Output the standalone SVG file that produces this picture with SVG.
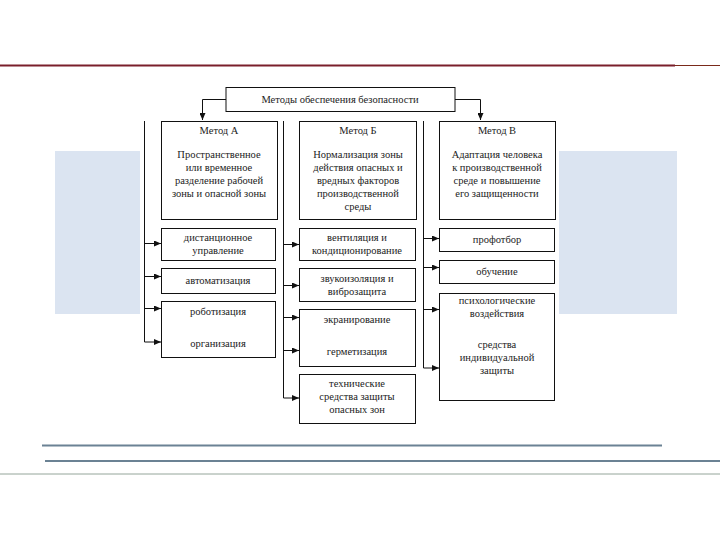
<svg xmlns="http://www.w3.org/2000/svg" width="720" height="540" viewBox="0 0 720 540">
<defs>
<marker id="ah" markerWidth="8" markerHeight="6" refX="7" refY="3" orient="auto" markerUnits="userSpaceOnUse"><path d="M0,0 L7,3 L0,6 Z" fill="#111"/></marker>
<style>
.b{fill:#fff;stroke:#111;stroke-width:1}
.t{font-family:"Liberation Serif","Times New Roman",serif;font-size:10.5px;fill:#222;text-anchor:middle}
.c{fill:none;stroke:#111;stroke-width:1}
.a{fill:none;stroke:#111;stroke-width:1;marker-end:url(#ah)}
</style>
</defs>
<rect width="720" height="540" fill="#fff"/>
<g id="decor">
<line x1="0" y1="65.5" x2="675" y2="65.5" stroke="#7a1f2b" stroke-width="2"/>
<line x1="675" y1="65.5" x2="720" y2="65.5" stroke="#7a2a1a" stroke-width="1"/>
<rect x="55" y="151" width="622" height="163" fill="#dbe4f1"/>
<rect x="140" y="84" width="419" height="344" fill="#fff"/>
<line x1="42" y1="445.5" x2="662" y2="445.5" stroke="#6b8294" stroke-width="2"/>
<line x1="45" y1="461" x2="720" y2="461" stroke="#6b8294" stroke-width="2"/>
<line x1="0" y1="474" x2="720" y2="474" stroke="#94a59a" stroke-width="1"/>
</g>
<g id="connectors">
<polyline class="a" points="226,99.5 202.5,99.5 202.5,120"/>
<polyline class="a" points="455,99.5 480.5,99.5 480.5,120"/>
<line class="c" x1="144.5" y1="121" x2="144.5" y2="342"/>
<line class="a" x1="144.5" y1="243.5" x2="161" y2="243.5"/>
<line class="a" x1="144.5" y1="276.5" x2="161" y2="276.5"/>
<line class="a" x1="144.5" y1="308.5" x2="161" y2="308.5"/>
<line class="a" x1="144.5" y1="342" x2="161" y2="342"/>
<line class="c" x1="283.5" y1="121" x2="283.5" y2="398"/>
<line class="a" x1="283.5" y1="244.5" x2="299" y2="244.5"/>
<line class="a" x1="283.5" y1="285.5" x2="299" y2="285.5"/>
<line class="a" x1="283.5" y1="317.5" x2="299" y2="317.5"/>
<line class="a" x1="283.5" y1="350.5" x2="299" y2="350.5"/>
<line class="a" x1="283.5" y1="398" x2="299" y2="398"/>
<line class="c" x1="423.5" y1="121" x2="423.5" y2="368"/>
<line class="a" x1="423.5" y1="238.5" x2="439" y2="238.5"/>
<line class="a" x1="423.5" y1="267.5" x2="439" y2="267.5"/>
<line class="a" x1="423.5" y1="309.5" x2="439" y2="309.5"/>
<line class="a" x1="423.5" y1="368" x2="439" y2="368"/>
</g>
<g id="top"><rect class="b" x="226" y="87.5" width="229" height="24"/><text class="t" x="340" y="103">Методы обеспечения безопасности</text></g>
<g id="methodA"><rect class="b" x="161.5" y="121.5" width="116" height="98"/>
<text class="t" x="219" y="134">Метод А</text>
<text class="t" x="219" y="158">Пространственное</text><text class="t" x="219" y="171">или временное</text><text class="t" x="219" y="184">разделение рабочей</text><text class="t" x="219" y="197">зоны и опасной зоны</text></g>
<g id="methodB"><rect class="b" x="299.5" y="121.5" width="117" height="98"/>
<text class="t" x="358" y="134">Метод Б</text>
<text class="t" x="358" y="158">Нормализация зоны</text><text class="t" x="358" y="171">действия опасных и</text><text class="t" x="358" y="184">вредных факторов</text><text class="t" x="358" y="197">производственной</text><text class="t" x="358" y="210">среды</text></g>
<g id="methodC"><rect class="b" x="439.5" y="121.5" width="116" height="98"/>
<text class="t" x="497" y="134">Метод В</text>
<text class="t" x="497" y="158">Адаптация человека</text><text class="t" x="497" y="171">к производственной</text><text class="t" x="497" y="184">среде и повышение</text><text class="t" x="497" y="197">его защищенности</text></g>
<g id="a1"><rect class="b" x="161.5" y="228.5" width="114" height="32"/><text class="t" x="218" y="241">дистанционное</text><text class="t" x="218" y="254">управление</text></g>
<g id="a2"><rect class="b" x="161.5" y="268.5" width="114" height="25"/><text class="t" x="218" y="284">автоматизация</text></g>
<g id="a3"><rect class="b" x="161.5" y="301.5" width="114" height="56"/><text class="t" x="218" y="315">роботизация</text><text class="t" x="218" y="347">организация</text></g>
<g id="b1"><rect class="b" x="299.5" y="228.5" width="116" height="32"/><text class="t" x="357" y="241">вентиляция и</text><text class="t" x="357" y="254">кондиционирование</text></g>
<g id="b2"><rect class="b" x="299.5" y="268.5" width="116" height="33"/><text class="t" x="357" y="282">звукоизоляция и</text><text class="t" x="357" y="295">виброзащита</text></g>
<g id="b3"><rect class="b" x="299.5" y="309.5" width="116" height="57"/><text class="t" x="357" y="323">экранирование</text><text class="t" x="357" y="355">герметизация</text></g>
<g id="b4"><rect class="b" x="299.5" y="374.5" width="116" height="49"/><text class="t" x="357" y="387">технические</text><text class="t" x="357" y="400">средства защиты</text><text class="t" x="357" y="413">опасных зон</text></g>
<g id="c1"><rect class="b" x="439.5" y="228.5" width="115" height="23"/><text class="t" x="497" y="243">профотбор</text></g>
<g id="c2"><rect class="b" x="439.5" y="260.5" width="115" height="23"/><text class="t" x="497" y="275">обучение</text></g>
<g id="c3"><rect class="b" x="439.5" y="293.5" width="115" height="107"/><text class="t" x="497" y="304">психологические</text><text class="t" x="497" y="317">воздействия</text><text class="t" x="497" y="348">средства</text><text class="t" x="497" y="361">индивидуальной</text><text class="t" x="497" y="374">защиты</text></g>
</svg>
